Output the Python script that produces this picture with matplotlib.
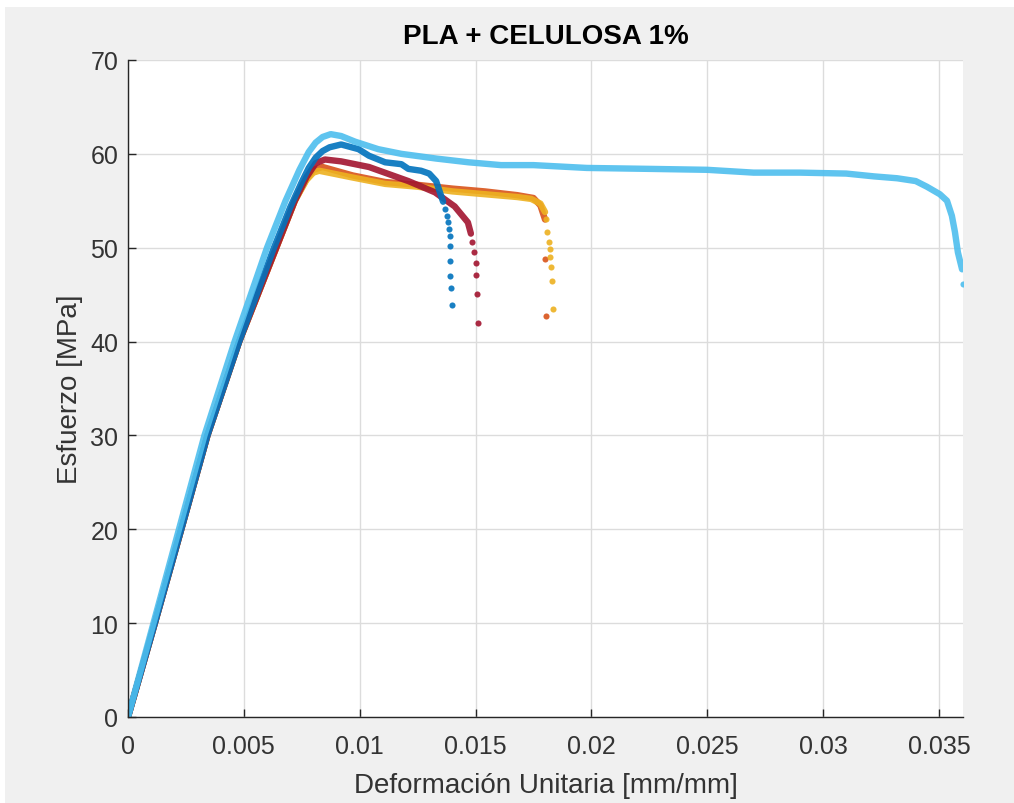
import matplotlib.pyplot as plt

# stress-strain curves, PLA + 1% cellulose specimens
light_blue_strain = [0, 0.0011, 0.0022, 0.0033, 0.0046, 0.0060, 0.0068, 0.0074, 0.0078,
                     0.0081, 0.0084, 0.00875, 0.0092, 0.0098, 0.0108, 0.0118, 0.0133,
                     0.0147, 0.0161, 0.0175, 0.0198, 0.0225, 0.0250, 0.0270, 0.0290,
                     0.0310, 0.0322, 0.0332, 0.0340, 0.03448, 0.03504, 0.03535, 0.03556,
                     0.03569, 0.03582, 0.0360]
light_blue_stress = [0, 10, 20, 30, 40, 50, 55.0, 58.3, 60.2, 61.2, 61.8, 62.1, 61.9, 61.3,
                     60.5, 60.0, 59.5, 59.1, 58.8, 58.8, 58.5, 58.4, 58.3, 58.0, 58.0, 57.9,
                     57.6, 57.4, 57.1, 56.5, 55.7, 55.0, 53.4, 51.7, 49.5, 47.7]
light_blue_tail_strain = [0.03604]
light_blue_tail_stress = [46.1]

dark_blue_strain = [0, 0.00116, 0.0023, 0.00343, 0.0048, 0.0063, 0.0070, 0.0075, 0.0078,
                    0.0081, 0.0084, 0.0087, 0.0092, 0.00995, 0.0104, 0.0111, 0.0118, 0.0121,
                    0.01265, 0.0130, 0.0133, 0.01345, 0.0136]
dark_blue_stress = [0, 10, 20, 30, 40, 50, 54.3, 57.0, 58.5, 59.6, 60.3, 60.7, 61.0, 60.5,
                    59.8, 59.1, 58.9, 58.4, 58.2, 57.9, 57.1, 56.0, 54.9]
dark_blue_tail_strain = [0.0137, 0.01375, 0.0138, 0.01385, 0.0139, 0.0139, 0.0139, 0.0139,
                         0.01395, 0.01398]
dark_blue_tail_stress = [54.1, 53.4, 52.7, 52.0, 51.3, 50.2, 48.6, 47.0, 45.7, 43.9]

red_strain = [0, 0.00116, 0.0023, 0.00343, 0.0048, 0.0064, 0.0072, 0.0077, 0.0081, 0.0085,
              0.0092, 0.0104, 0.0121, 0.01325, 0.0141, 0.01467, 0.0148]
red_stress = [0, 10, 20, 30, 40, 50, 55.0, 57.5, 59.0, 59.4, 59.2, 58.6, 57.1, 55.9, 54.4,
              52.7, 51.5]
red_tail_strain = [0.01485, 0.01495, 0.0150, 0.0150, 0.01505, 0.0151]
red_tail_stress = [50.6, 49.5, 48.4, 47.1, 45.1, 42.0]

orange_strain = [0, 0.00116, 0.0023, 0.00343, 0.0048, 0.0064, 0.0072, 0.0077, 0.0080,
                 0.0084, 0.0097, 0.0111, 0.0125, 0.0140, 0.0154, 0.0168, 0.0175, 0.0178,
                 0.0180]
orange_stress = [0, 10, 20, 30, 40, 50, 55.0, 57.3, 58.3, 58.6, 57.7, 57.0, 56.7, 56.3,
                 56.0, 55.6, 55.3, 54.5, 53.0]
orange_tail_strain = [0.01798, 0.01805]
orange_tail_stress = [48.8, 42.7]

yellow_strain = [0, 0.00116, 0.0023, 0.00343, 0.0048, 0.0064, 0.0072, 0.0077, 0.0080,
                 0.00825, 0.00965, 0.0111, 0.0125, 0.0140, 0.0154, 0.0168, 0.0174, 0.0178,
                 0.0180]
yellow_stress = [0, 10, 20, 30, 40, 50, 55.0, 57.2, 58.0, 58.2, 57.5, 56.8, 56.5, 56.0,
                 55.7, 55.4, 55.2, 54.7, 53.8]
yellow_tail_strain = [0.01805, 0.0181, 0.01815, 0.0182, 0.01822, 0.01825, 0.0183, 0.01836]
yellow_tail_stress = [53.1, 51.7, 50.6, 49.9, 49.0, 47.9, 46.5, 43.5]

series = [
    (orange_strain, orange_stress, orange_tail_strain, orange_tail_stress, (0.85, 0.325, 0.098)),
    (yellow_strain, yellow_stress, yellow_tail_strain, yellow_tail_stress, (0.929, 0.694, 0.125)),
    (red_strain, red_stress, red_tail_strain, red_tail_stress, (0.635, 0.078, 0.184)),
    (dark_blue_strain, dark_blue_stress, dark_blue_tail_strain, dark_blue_tail_stress, (0.0, 0.447, 0.741)),
    (light_blue_strain, light_blue_stress, light_blue_tail_strain, light_blue_tail_stress, (0.301, 0.745, 0.933)),
]

plt.rcParams['font.family'] = ['Liberation Sans', 'DejaVu Sans']

fig = plt.figure(figsize=(10.14, 8.04), dpi=100)
fig.patch.set_facecolor('white')
# grey figure panel (white border strip on top/left)
fig.patches.append(plt.Rectangle((5 / 1014, 0), 1, 1 - 8 / 804, transform=fig.transFigure,
                                 facecolor='#f0f0f0', edgecolor='none', zorder=-10))

ax = fig.add_axes([128 / 1014, 86 / 804, 835 / 1014, 657 / 804])
ax.set_facecolor('white')

for x, y, tx, ty, c in series:
    ax.plot(x, y, '-', color=c, lw=4.6, solid_capstyle='round', solid_joinstyle='round', alpha=0.9)
    ax.plot(tx, ty, 'o', color=c, ms=4.4, mec='none', alpha=0.9)

ax.set_xlim(0, 0.03604)
ax.set_ylim(0, 70)
ax.set_xticks([0, 0.005, 0.01, 0.015, 0.02, 0.025, 0.03, 0.035])
ax.set_xticklabels(['0', '0.005', '0.01', '0.015', '0.02', '0.025', '0.03', '0.035'])
ax.set_yticks(range(0, 71, 10))
ax.grid(True, color='#dcdcdc', lw=1)
ax.set_axisbelow(True)

for s in ['top', 'right']:
    ax.spines[s].set_visible(False)
for s in ['left', 'bottom']:
    ax.spines[s].set_color('#262626')
    ax.spines[s].set_linewidth(1.0)
ax.tick_params(direction='in', length=6, width=1, color='#262626', labelcolor='#333333',
               labelsize=18)
ax.tick_params(axis='x', pad=12)
ax.tick_params(axis='y', pad=7)

ax.set_title('PLA + CELULOSA 1%', fontsize=20, fontweight='bold', color='black', pad=12)
ax.set_xlabel('Deformación Unitaria [mm/mm]', fontsize=20, color='#333333', labelpad=10)
ax.set_ylabel('Esfuerzo [MPa]', fontsize=20, color='#333333', labelpad=5)

fig.savefig('out.png', dpi=100, facecolor=fig.get_facecolor())
